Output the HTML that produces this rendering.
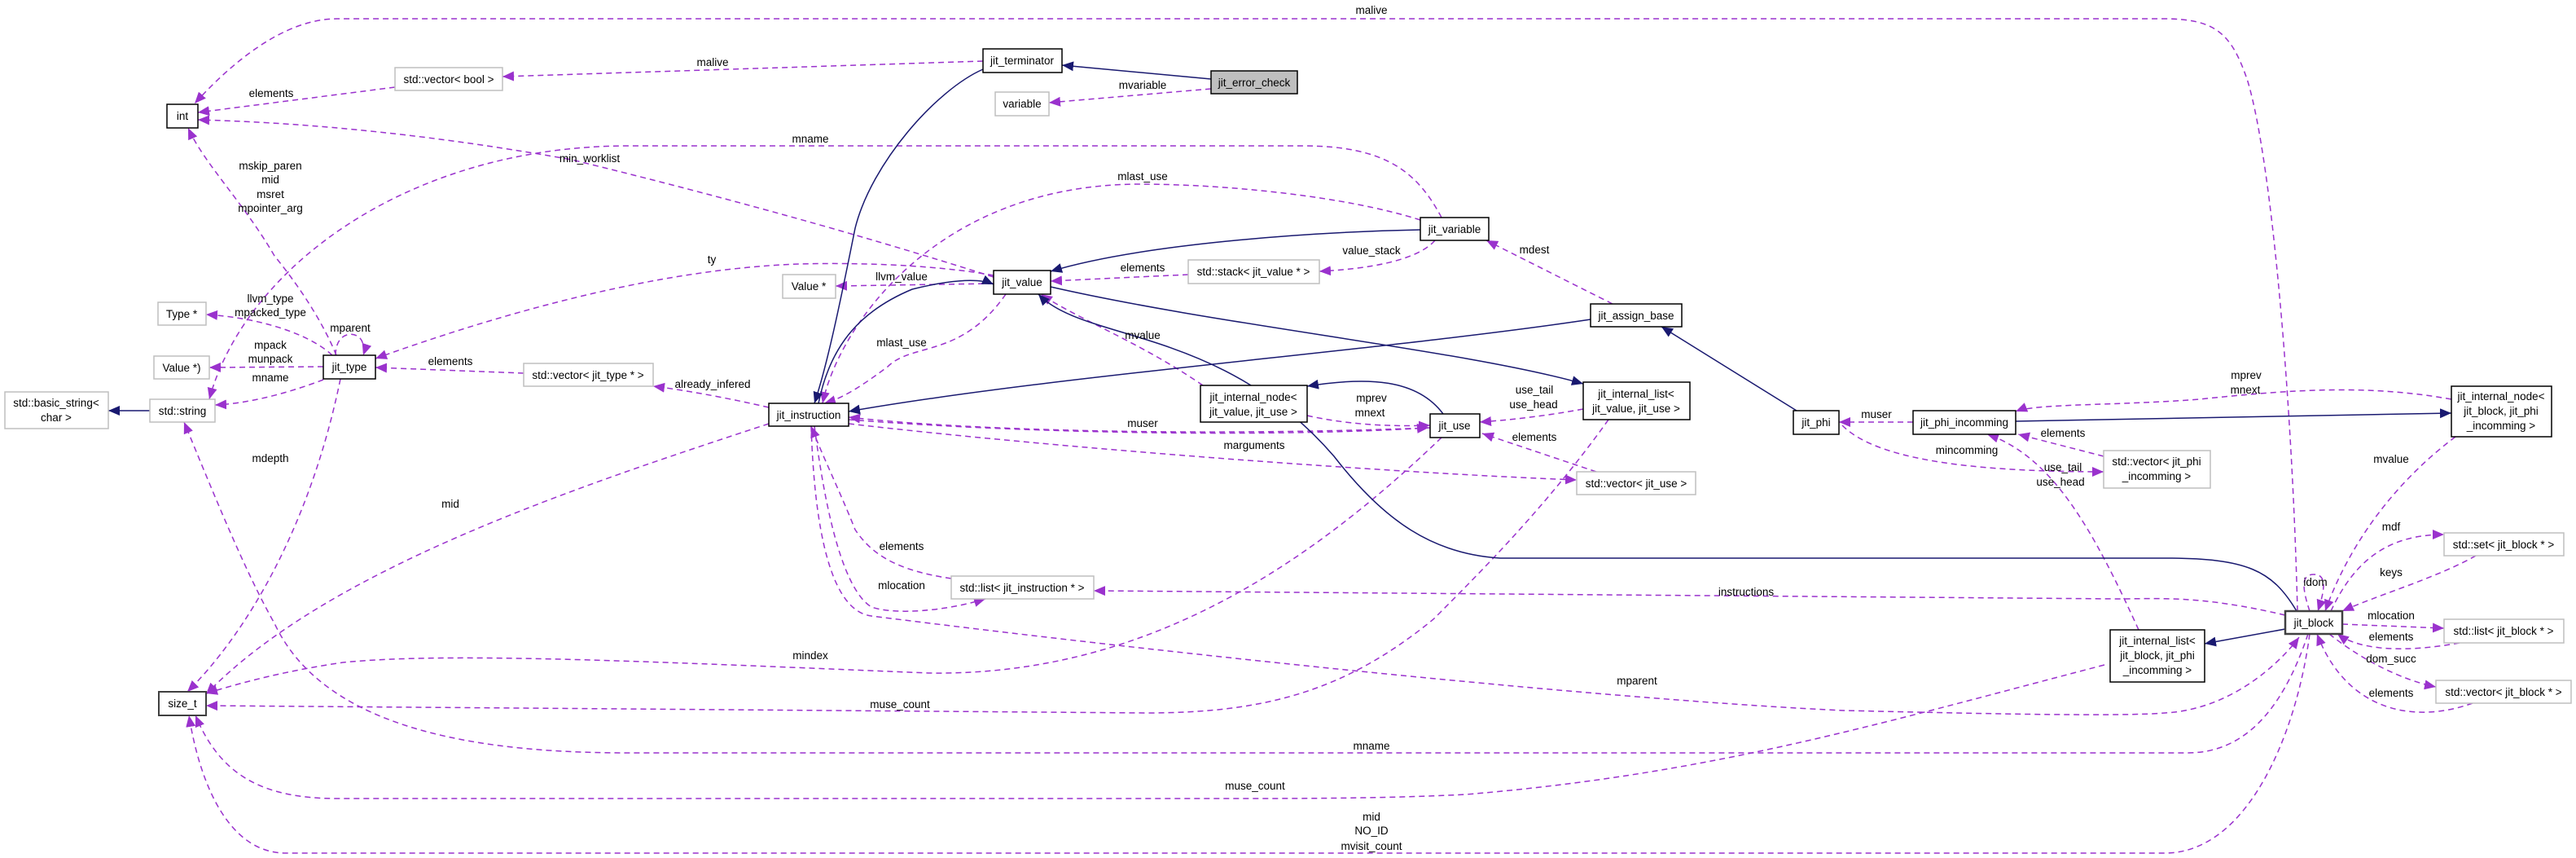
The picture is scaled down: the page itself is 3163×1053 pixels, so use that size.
<!DOCTYPE html>
<html><head><meta charset="utf-8"><style>
html,body{margin:0;padding:0;background:#fff;}
svg{display:block;font-family:"Liberation Sans",Arial,sans-serif;}
</style></head><body>
<svg width="3163" height="1053" viewBox="0 0 3163 1053" xmlns="http://www.w3.org/2000/svg">
<defs>
<marker id="p" markerWidth="16" markerHeight="12" refX="14" refY="6" orient="auto" markerUnits="userSpaceOnUse"><path d="M0,0 L14,6 L0,12 z" fill="#9a32cd"/></marker>
<marker id="b" markerWidth="16" markerHeight="12" refX="14" refY="6" orient="auto" markerUnits="userSpaceOnUse"><path d="M0,0 L14,6 L0,12 z" fill="#191970"/></marker>
</defs>
<g fill="none" stroke="#9a32cd" stroke-width="1.5" stroke-dasharray="7,5" marker-end="url(#p)">
<path d="M2821,750 C2815,500 2790,200 2760,100 C2740,40 2720,23 2656,23 L414,23 C360,23 300,60 239,127"/>
<path d="M1207,75 L617,94"/>
<path d="M485,107 L243,138"/>
<path d="M413,436 C390,380 350,330 337,314 C300,250 250,200 231,157"/>
<path d="M1220,340 C1000,270 800,220 702,196 C500,160 350,150 243,147"/>
<path d="M1770,267 C1740,210 1700,179 1600,179 L772,179 C500,179 300,330 257,490"/>
<path d="M1744,270 C1650,240 1500,226 1400,226 C1150,226 1030,400 1010,495"/>
<path d="M1762,295 C1740,320 1680,330 1620,333"/>
<path d="M1459,337 L1290,345"/>
<path d="M1220,348 L1026,351"/>
<path d="M1220,338 C1150,325 1050,322 982,324 C800,330 600,390 461,440"/>
<path d="M1235,361 C1180,440 1120,420 1090,450 C1050,480 1030,490 1012,495"/>
<path d="M1477,473 C1400,420 1320,390 1278,361"/>
<path d="M1487,109 L1288,126"/>
<path d="M1980,373 L1825,295"/>
<path d="M1605,510 C1650,520 1700,524 1756,522"/>
<path d="M1944,502 C1900,510 1860,515 1817,518"/>
<path d="M1756,525 C1500,535 1200,530 1042,512"/>
<path d="M1042,515 C1300,535 1600,535 1754,525"/>
<path d="M1042,520 C1300,550 1700,580 1936,589"/>
<path d="M1960,579 L1820,532"/>
<path d="M944,500 C900,490 850,480 802,474"/>
<path d="M643,458 L461,451"/>
<path d="M408,436 C380,410 320,390 253,386"/>
<path d="M412,436 C412,405 440,405 445,420 C448,430 446,436 446,436"/>
<path d="M397,450 L257,451"/>
<path d="M397,466 C360,480 310,495 264,497"/>
<path d="M418,465 C380,650 300,780 230,849"/>
<path d="M944,520 C700,600 400,700 253,852"/>
<path d="M1770,537 C1600,700 1400,830 1140,826 C800,812 550,800 421,813 C340,825 290,840 253,851"/>
<path d="M1975,515 C1900,620 1820,700 1760,760 C1650,850 1550,875 1407,875 L253,866"/>
<path d="M2834,778 C2800,880 2750,924 2686,924 L772,924 C600,924 400,900 337,765 C300,700 260,600 226,518"/>
<path d="M2584,816 C2300,890 2100,950 1800,975 C1700,980 1600,980 1500,980 L414,980 C320,980 270,950 240,878"/>
<path d="M2836,778 C2820,900 2760,1047 2658,1047 L351,1047 C280,1047 245,960 232,878"/>
<path d="M996,523 C1000,650 1020,750 1070,756 C1500,810 2000,860 2264,872 C2400,875 2600,880 2658,875 C2750,870 2810,800 2823,782"/>
<path d="M1168,710 C1100,700 1070,680 1050,650 C1030,600 1010,560 996,523"/>
<path d="M1000,523 C1010,600 1030,720 1070,745 C1100,755 1160,750 1210,735"/>
<path d="M2806,755 C2700,730 2650,735 2600,735 L1343,725"/>
<path d="M2836,750 C2826,720 2826,705 2841,705 C2856,705 2856,720 2846,750"/>
<path d="M2862,750 C2890,690 2930,656 3001,656"/>
<path d="M3040,682 C2990,710 2920,730 2876,750"/>
<path d="M2876,766 L3001,771"/>
<path d="M3020,789 C2960,800 2900,800 2870,778"/>
<path d="M2860,778 C2900,810 2950,835 2991,843"/>
<path d="M3036,863 C2960,890 2880,870 2845,778"/>
<path d="M3015,536 C2930,600 2880,680 2855,750"/>
<path d="M3010,490 C2900,470 2800,480 2700,490 C2600,498 2500,495 2475,505"/>
<path d="M2349,518 L2258,518"/>
<path d="M2262,522 C2300,560 2400,579 2583,579"/>
<path d="M2583,560 L2478,533"/>
<path d="M2626,773 C2570,650 2520,560 2440,533"/>
</g>
<g fill="none" stroke="#191970" stroke-width="1.5" marker-end="url(#b)">
<path d="M1744,282 C1600,285 1400,300 1290,333"/>
<path d="M1005,495 C1020,420 1060,380 1120,355 C1160,345 1200,340 1220,349"/>
<path d="M1207,85 C1150,110 1070,200 1050,280 C1030,380 1015,450 1000,495"/>
<path d="M1487,97 L1304,80"/>
<path d="M2820,750 C2790,700 2760,685 2658,685 L1842,685 C1760,680 1700,640 1638,560 C1500,400 1330,420 1275,361"/>
<path d="M1953,392 C1700,430 1300,460 1042,505"/>
<path d="M2206,504 L2040,401"/>
<path d="M1290,352 C1500,400 1800,430 1944,471"/>
<path d="M1772,508 C1740,465 1680,462 1605,474"/>
<path d="M184,504 L133,504"/>
<path d="M2806,772 L2707,790"/>
<path d="M2475,517 L3010,507"/>
</g>
<g font-size="13.5" fill="#000" text-anchor="middle">
<text x="1684" y="17">malive</text>
<text x="875" y="81">malive</text>
<text x="333" y="119">elements</text>
<text x="332" y="208">mskip_paren</text>
<text x="332" y="225">mid</text>
<text x="332" y="243">msret</text>
<text x="332" y="260">mpointer_arg</text>
<text x="724" y="199">min_worklist</text>
<text x="995" y="175">mname</text>
<text x="1403" y="221">mlast_use</text>
<text x="1684" y="312">value_stack</text>
<text x="1403" y="333">elements</text>
<text x="1107" y="344">llvm_value</text>
<text x="874" y="323">ty</text>
<text x="1403" y="109">mvariable</text>
<text x="1107" y="425">mlast_use</text>
<text x="1403" y="416">mvalue</text>
<text x="1884" y="311">mdest</text>
<text x="1684" y="493">mprev</text>
<text x="1682" y="511">mnext</text>
<text x="1884" y="483">use_tail</text>
<text x="1883" y="501">use_head</text>
<text x="1403" y="524">muser</text>
<text x="1540" y="551">marguments</text>
<text x="1884" y="541">elements</text>
<text x="875" y="476">already_infered</text>
<text x="553" y="448">elements</text>
<text x="332" y="371">llvm_type</text>
<text x="332" y="388">mpacked_type</text>
<text x="430" y="407">mparent</text>
<text x="332" y="428">mpack</text>
<text x="332" y="445">munpack</text>
<text x="332" y="468">mname</text>
<text x="332" y="567">mdepth</text>
<text x="553" y="623">mid</text>
<text x="995" y="809">mindex</text>
<text x="1105" y="869">muse_count</text>
<text x="1684" y="920">mname</text>
<text x="1541" y="969">muse_count</text>
<text x="1684" y="1007">mid</text>
<text x="1684" y="1024">NO_ID</text>
<text x="1684" y="1043">mvisit_count</text>
<text x="2010" y="840">mparent</text>
<text x="1107" y="675">elements</text>
<text x="1107" y="723">mlocation</text>
<text x="2144" y="731">instructions</text>
<text x="2843" y="719">idom</text>
<text x="2936" y="651">mdf</text>
<text x="2936" y="707">keys</text>
<text x="2936" y="760">mlocation</text>
<text x="2936" y="786">elements</text>
<text x="2936" y="813">dom_succ</text>
<text x="2936" y="855">elements</text>
<text x="2936" y="568">mvalue</text>
<text x="2758" y="465">mprev</text>
<text x="2757" y="483">mnext</text>
<text x="2304" y="513">muser</text>
<text x="2415" y="557">mincomming</text>
<text x="2533" y="536">elements</text>
<text x="2533" y="578">use_tail</text>
<text x="2530" y="596">use_head</text>
</g>
<g font-size="13.5" text-anchor="middle">
<g stroke="#000" stroke-width="1.5" fill="#fff">
<rect x="205" y="128" width="38" height="29"/>
<rect x="397" y="436" width="64" height="29"/>
<rect x="944" y="495" width="98" height="28"/>
<rect x="1207" y="60" width="97" height="29"/>
<rect x="1744" y="267" width="84" height="28"/>
<rect x="1220" y="332" width="70" height="29"/>
<rect x="1953" y="373" width="112" height="28"/>
<rect x="1474" y="473" width="131" height="45"/>
<rect x="1756" y="508" width="61" height="29"/>
<rect x="1944" y="469" width="131" height="46"/>
<rect x="2202" y="504" width="56" height="29"/>
<rect x="2349" y="504" width="126" height="29"/>
<rect x="3010" y="474" width="123" height="62"/>
<rect x="2591" y="773" width="116" height="64"/>
<rect x="195" y="849" width="58" height="29" stroke="#404040" stroke-width="2"/>
<rect x="2806" y="750" width="70" height="28" stroke="#404040" stroke-width="2.5"/>
</g>
<rect x="1487" y="87" width="106" height="28" fill="#bfbfbf" stroke="#000" stroke-width="1.5"/>
<g stroke="#bfbfbf" stroke-width="1.5" fill="#fff">
<rect x="485" y="83" width="132" height="28"/>
<rect x="194" y="371" width="59" height="28"/>
<rect x="189" y="437" width="68" height="28"/>
<rect x="6" y="481" width="127" height="45"/>
<rect x="184" y="490" width="80" height="28"/>
<rect x="643" y="446" width="159" height="28"/>
<rect x="961" y="337" width="65" height="29"/>
<rect x="1222" y="113" width="66" height="29"/>
<rect x="1459" y="319" width="161" height="29"/>
<rect x="3001" y="654" width="147" height="28"/>
<rect x="3001" y="760" width="147" height="29"/>
<rect x="2991" y="835" width="166" height="28"/>
<rect x="2583" y="553" width="131" height="46"/>
<rect x="1936" y="579" width="146" height="28"/>
<rect x="1168" y="707" width="175" height="28"/>
</g>
<g fill="#000">
<text x="224" y="147">int</text>
<text x="429" y="455">jit_type</text>
<text x="993" y="514">jit_instruction</text>
<text x="1255" y="79">jit_terminator</text>
<text x="1786" y="286">jit_variable</text>
<text x="1255" y="351">jit_value</text>
<text x="2009" y="392">jit_assign_base</text>
<text x="1539" y="492">jit_internal_node&lt;</text>
<text x="1539" y="510">jit_value, jit_use &gt;</text>
<text x="1786" y="527">jit_use</text>
<text x="2009" y="488">jit_internal_list&lt;</text>
<text x="2009" y="506">jit_value, jit_use &gt;</text>
<text x="2230" y="523">jit_phi</text>
<text x="2412" y="523">jit_phi_incomming</text>
<text x="3071" y="491">jit_internal_node&lt;</text>
<text x="3071" y="509">jit_block, jit_phi</text>
<text x="3071" y="527">_incomming &gt;</text>
<text x="2649" y="791">jit_internal_list&lt;</text>
<text x="2649" y="809">jit_block, jit_phi</text>
<text x="2649" y="827">_incomming &gt;</text>
<text x="224" y="868">size_t</text>
<text x="2841" y="769">jit_block</text>
<text x="1540" y="106">jit_error_check</text>
<text x="551" y="102">std::vector&lt; bool &gt;</text>
<text x="223" y="390">Type *</text>
<text x="223" y="456">Value *)</text>
<text x="69" y="499">std::basic_string&lt;</text>
<text x="69" y="517">char &gt;</text>
<text x="224" y="509">std::string</text>
<text x="722" y="465">std::vector&lt; jit_type * &gt;</text>
<text x="993" y="356">Value *</text>
<text x="1255" y="132">variable</text>
<text x="1539" y="338">std::stack&lt; jit_value * &gt;</text>
<text x="3074" y="673">std::set&lt; jit_block * &gt;</text>
<text x="3074" y="779">std::list&lt; jit_block * &gt;</text>
<text x="3074" y="854">std::vector&lt; jit_block * &gt;</text>
<text x="2648" y="571">std::vector&lt; jit_phi</text>
<text x="2648" y="589">_incomming &gt;</text>
<text x="2009" y="598">std::vector&lt; jit_use &gt;</text>
<text x="1255" y="726">std::list&lt; jit_instruction * &gt;</text>
</g>
</g>
</svg>
</body></html>
